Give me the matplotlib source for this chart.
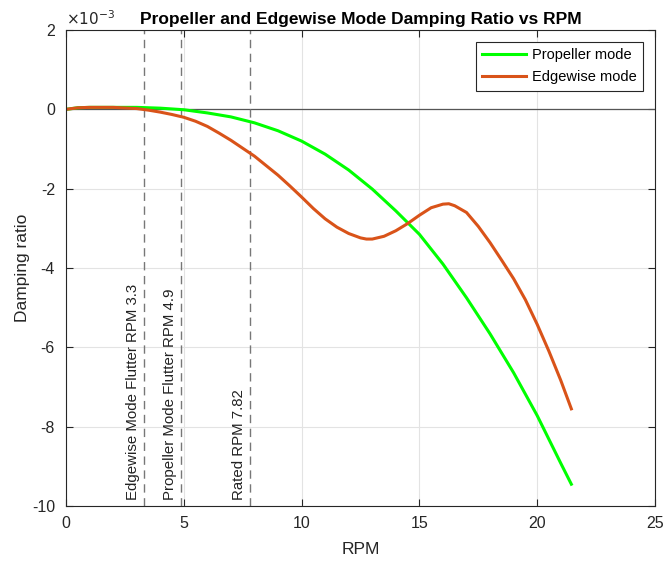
import matplotlib
matplotlib.use("Agg")
import matplotlib.pyplot as plt
import numpy as np

plt.rcParams['font.family'] = ['Liberation Sans', 'DejaVu Sans']
plt.rcParams['axes.unicode_minus'] = False

# damping ratio values (x 1e-3)
rpm_prop = [0, 0.5, 1, 2, 3, 4, 5, 6, 7, 8, 9, 10, 11, 12, 13, 14, 15, 16, 17, 18, 19,
            20, 21, 21.45]
damp_prop = [0.0, 0.04, 0.05, 0.05, 0.05, 0.03, -0.01, -0.09, -0.19, -0.34, -0.54, -0.8,
             -1.13, -1.53, -2.01, -2.56, -3.15, -3.9, -4.75, -5.66, -6.64, -7.72, -8.92,
             -9.45]

rpm_edge = [0, 0.5, 1, 2, 3, 3.5, 4, 4.5, 5, 5.5, 6, 6.5, 7, 7.5, 8, 8.5, 9, 9.5, 10,
            10.5, 11, 11.5, 12, 12.5, 12.75, 13, 13.5, 14, 14.5, 15, 15.5, 16, 16.25,
            16.5, 17, 17.5, 18, 18.5, 19, 19.5, 20, 20.5, 21, 21.45]
damp_edge = [0.0, 0.04, 0.05, 0.05, 0.02, -0.02, -0.07, -0.13, -0.2, -0.3, -0.43, -0.6,
             -0.78, -0.98, -1.18, -1.42, -1.66, -1.93, -2.21, -2.5, -2.76, -2.97, -3.13,
             -3.24, -3.27, -3.27, -3.2, -3.06, -2.88, -2.67, -2.48, -2.39, -2.38, -2.43,
             -2.6, -2.95, -3.36, -3.81, -4.27, -4.8, -5.42, -6.1, -6.83, -7.55]

markers = [3.3, 4.9, 7.82]
marker_labels = ["Edgewise Mode Flutter RPM 3.3",
                 "Propeller Mode Flutter RPM 4.9",
                 "Rated RPM 7.82"]

fig = plt.figure(figsize=(6.68, 5.61), dpi=100)
ax = fig.add_axes([0.0988, 0.098, 0.8817, 0.8485])

ax.plot(rpm_prop, damp_prop, color=(0, 1, 0), lw=2.2, label="Propeller mode",
        solid_joinstyle="round")
ax.plot(rpm_edge, damp_edge, color=(0.85, 0.325, 0.098), lw=2.2, label="Edgewise mode",
        solid_joinstyle="round")

ax.axhline(0, color="#555555", lw=0.9, zorder=1)
for xm, lab in zip(markers, marker_labels):
    ax.axvline(xm, color="#777777", lw=1.0, ls=(0, (6, 4)), zorder=1)
    ax.text(xm - 0.18, -9.85, lab, rotation=90, ha="right", va="bottom", fontsize=10.8,
            color="#222222")

ax.set_xlim(0, 25)
ax.set_ylim(-10, 2)
ax.set_xticks(np.arange(0, 26, 5))
ax.set_yticks(np.arange(-10, 3, 2))
ax.grid(True, color="#e3e3e3", lw=0.8)
ax.set_axisbelow(True)
ax.tick_params(direction="in", top=True, right=True, labelsize=11.5, colors="#262626",
               length=5, width=0.8)
ax.tick_params(axis="y", pad=8)
ax.tick_params(axis="x", pad=7)
for s in ax.spines.values():
    s.set_color("#262626")
    s.set_linewidth(0.8)

ax.text(0, 1.005, r"$\times 10^{-3}$", transform=ax.transAxes, ha="left", va="bottom",
        fontsize=11, color="#262626")
ax.set_title("Propeller and Edgewise Mode Damping Ratio vs RPM", fontsize=12.5,
             fontweight="bold", pad=4)
ax.set_xlabel("RPM", fontsize=12.5, color="#262626", labelpad=8)
ax.set_ylabel("Damping ratio", fontsize=12.5, color="#262626", labelpad=1)

leg = ax.legend(loc="upper right", fontsize=10.5, fancybox=False, framealpha=1,
                edgecolor="#262626", handlelength=3.0, borderaxespad=0.8,
                borderpad=0.45, labelspacing=0.55, handletextpad=0.4)
leg.get_frame().set_linewidth(0.8)

fig.savefig("out.png", dpi=100)
